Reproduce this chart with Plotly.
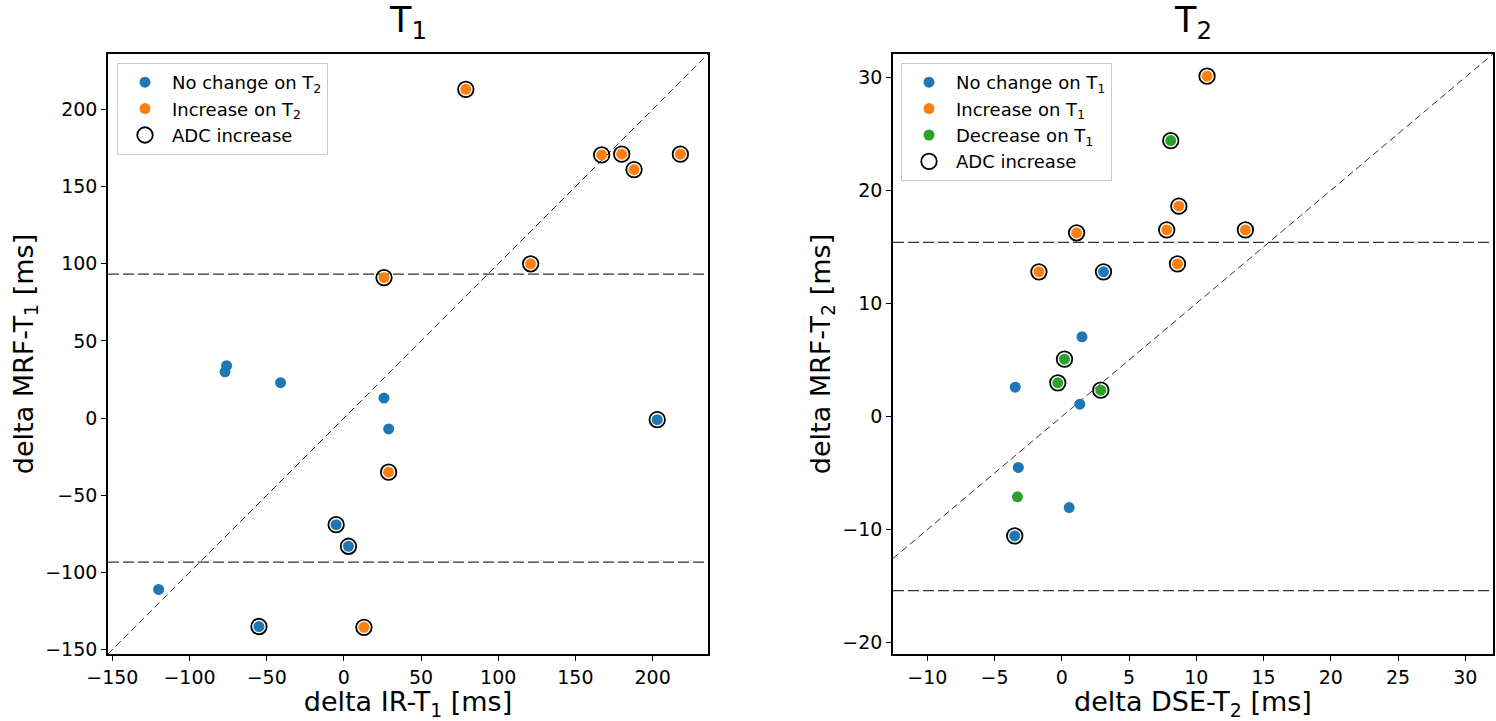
import plotly.graph_objects as go

# ---------------- data ----------------
# Left panel (T1)
t1_x = [-76, -77, -41, 26, 29, -120, 203, -5, 3, -55,
        79, 167, 180, 188, 218, 121, 26, 29, 13]
t1_y = [34, 30, 23, 13, -7, -111, -1, -69, -83, -135,
        213, 170.5, 171, 161, 171, 100, 91, -35, -135.5]
t1_group = ["none"] * 10 + ["inc"] * 9
t1_adc = [0, 0, 0, 0, 0, 0, 1, 1, 1, 1,
          1, 1, 1, 1, 1, 1, 1, 1, 1]
t1_thresh = 93.3
t1_range = [-152.8, 235.9]
t1_ticks = [-150, -100, -50, 0, 50, 100, 150, 200]

# Right panel (T2)
t2_x = [10.8, 8.7, 1.1, 7.8, 13.65, 8.6, -1.7,
        8.1, 0.2, -0.3, 2.9, -3.3,
        3.1, -3.5, 1.5, -3.46, 1.34, -3.23, 0.55]
t2_y = [30.1, 18.6, 16.25, 16.5, 16.5, 13.5, 12.8,
        24.4, 5.07, 2.98, 2.33, -7.1,
        12.8, -10.56, 7.05, 2.6, 1.09, -4.5, -8.05]
t2_group = ["inc"] * 7 + ["dec"] * 5 + ["none"] * 7
t2_adc = [1, 1, 1, 1, 1, 1, 1,
          1, 1, 1, 1, 0,
          1, 1, 0, 0, 0, 0, 0]
t2_thresh = 15.4
t2_xrange = [-12.55, 32.06]
t2_yrange = [-21.0, 32.06]
t2_xticks = [-10, -5, 0, 5, 10, 15, 20, 25, 30]
t2_yticks = [-20, -10, 0, 10, 20, 30]

colors = {"none": "#1f77b4", "inc": "#ff7f0e", "dec": "#2ca02c"}
t1_labels = {"none": "No change on T<sub>2</sub>", "inc": "Increase on T<sub>2</sub>"}
t2_labels = {"none": "No change on T<sub>1</sub>", "inc": "Increase on T<sub>1</sub>",
             "dec": "Decrease on T<sub>1</sub>"}

FONT = "DejaVu Sans"
W, H = 1496, 721

fig = go.Figure()

def add_panel(xs, ys, groups, adcs, labels, xa, ya, legend):
    for g, lab in labels.items():
        gx = [x for x, gg in zip(xs, groups) if gg == g]
        gy = [y for y, gg in zip(ys, groups) if gg == g]
        fig.add_trace(go.Scatter(
            x=gx, y=gy, mode="markers", name=lab, xaxis=xa, yaxis=ya, legend=legend,
            marker=dict(size=11, color=colors[g], line=dict(width=0)),
            cliponaxis=False))
    ax = [x for x, a in zip(xs, adcs) if a]
    ay = [y for y, a in zip(ys, adcs) if a]
    fig.add_trace(go.Scatter(
        x=ax, y=ay, mode="markers", name="ADC increase", xaxis=xa, yaxis=ya, legend=legend,
        marker=dict(size=15.5, color="black", symbol="circle-open",
                    line=dict(width=1.8, color="black")),
        cliponaxis=False))

add_panel(t1_x, t1_y, t1_group, t1_adc, t1_labels, "x", "y", "legend")
add_panel(t2_x, t2_y, t2_group, t2_adc, t2_labels, "x2", "y2", "legend2")

# reference lines
for xr, yr, rng_lo, rng_hi, th in [("x", "y", t1_range[0], t1_range[1], t1_thresh),
                                   ("x2", "y2", t2_xrange[0], t2_xrange[1], t2_thresh)]:
    fig.add_shape(type="line", xref=xr, yref=yr, x0=rng_lo, y0=rng_lo, x1=rng_hi, y1=rng_hi,
                  line=dict(color="#333333", width=1, dash="7px,4px"), layer="below")
    for s in (1, -1):
        fig.add_shape(type="line", xref=xr + " domain", yref=yr, x0=0, x1=1, y0=s * th, y1=s * th,
                      line=dict(color="#333333", width=1.3, dash="11px,4px"), layer="below")

# geometry (pixels)
L1, R1, L2, R2, TOP, BOT = 108, 708, 893, 1493, 54, 654
def fx(px):
    return px / W
def fy(py):
    return 1 - py / H

axis_common = dict(showgrid=False, zeroline=False, showline=True, linecolor="black",
                   linewidth=1.6, mirror=True, ticks="outside", ticklen=5, tickwidth=1.4,
                   tickcolor="black", tickfont=dict(family=FONT, size=19, color="black"),
                   automargin=False)
title_font = dict(family=FONT, size=27, color="black")

leg_common = dict(xanchor="left", yanchor="top",
                  bgcolor="rgba(255,255,255,0.9)", bordercolor="#cccccc", borderwidth=1,
                  font=dict(family=FONT, size=18), tracegroupgap=0, itemsizing="trace",
                  itemwidth=44)

fig.update_layout(
    width=W, height=H, margin=dict(l=0, r=0, t=0, b=0, autoexpand=False),
    paper_bgcolor="white", plot_bgcolor="white",
    font=dict(family=FONT, color="black"),
    xaxis=dict(domain=[fx(L1), fx(R1)], range=t1_range, tickvals=t1_ticks, anchor="y",
               title=dict(text="delta IR-T<sub>1</sub> [ms]", font=title_font, standoff=3),
               **axis_common),
    yaxis=dict(domain=[fy(BOT), fy(TOP)], range=t1_range, tickvals=t1_ticks, anchor="x",
               title=dict(text="delta MRF-T<sub>1</sub> [ms]", font=title_font, standoff=4),
               **axis_common),
    xaxis2=dict(domain=[fx(L2), fx(R2)], range=t2_xrange, tickvals=t2_xticks, anchor="y2",
                title=dict(text="delta DSE-T<sub>2</sub> [ms]", font=title_font, standoff=3),
                **axis_common),
    yaxis2=dict(domain=[fy(BOT), fy(TOP)], range=t2_yrange, tickvals=t2_yticks, anchor="x2",
                title=dict(text="delta MRF-T<sub>2</sub> [ms]", font=title_font, standoff=4),
                **axis_common),
    legend=dict(x=fx(117), y=fy(63), **leg_common),
    legend2=dict(x=fx(901), y=fy(63), **leg_common),
    showlegend=True,
)

for cx, txt in [((L1 + R1) / 2, "T<sub>1</sub>"), ((L2 + R2) / 2, "T<sub>2</sub>")]:
    fig.add_annotation(x=fx(cx), y=1, xref="paper", yref="paper", text=txt,
                       showarrow=False, xanchor="center", yanchor="top", yshift=2,
                       font=dict(family=FONT, size=35, color="black"))

fig.write_html("out.html")
